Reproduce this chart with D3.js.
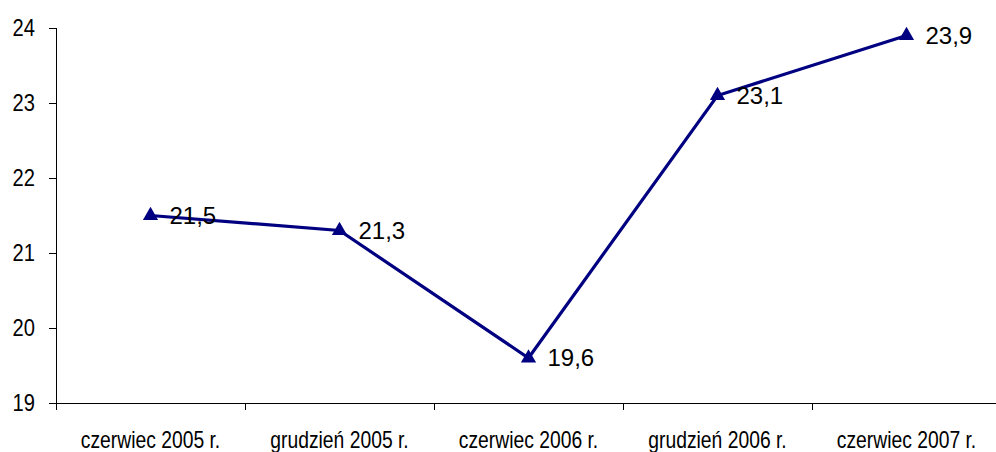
<!DOCTYPE html>
<meta charset="utf-8">
<style>
body { margin: 0; background: #fff; }
.axis path, .axis line { stroke: #000; stroke-width: 1px; shape-rendering: crispEdges; }
.axis text { font-family: "Liberation Sans", Arial, sans-serif; font-size: 23px; fill: #000; }
.lbl { font-family: "Liberation Sans", Arial, sans-serif; font-size: 24px; fill: #000; }
</style>
<script src="https://d3js.org/d3.v7.min.js"></script>
<div id="chart"></div>
<script>
// data
var periods = ["czerwiec 2005 r.", "grudzień 2005 r.", "czerwiec 2006 r.", "grudzień 2006 r.", "czerwiec 2007 r."];
var values = [21.5, 21.3, 19.6, 23.1, 23.9];
var valueLabels = ["21,5", "21,3", "19,6", "23,1", "23,9"];
var yTicks = [19, 20, 21, 22, 23, 24];

var width = 996, height = 452;
var svg = d3.select("#chart").append("svg")
  .attr("width", width)
  .attr("height", height);

var x = d3.scaleBand()
  .domain(periods)
  .range([56, 1001]);

var y = d3.scaleLinear()
  .domain([19, 24])
  .range([403, 28]);

// narrow look like Arial Narrow: squeeze text around its anchor
function narrow(sel, k) {
  sel.each(function() {
    var t = d3.select(this);
    var tx = +t.attr("x") || 0;
    t.attr("x", 0).attr("transform", "translate(" + tx + ",0) scale(" + k + ",1)");
  });
}

// y axis
var gy = svg.append("g")
  .attr("class", "axis")
  .attr("transform", "translate(56,0)")
  .call(d3.axisLeft(y).tickValues(yTicks).tickSize(7).tickPadding(14).tickFormat(d3.format("d")));
gy.selectAll("text").style("font-size", "24px").call(narrow, 0.84);

// x axis, ticks between categories
var gx = svg.append("g")
  .attr("class", "axis")
  .attr("transform", "translate(0,403)")
  .call(d3.axisBottom(x).tickSize(0).tickPadding(29));
gx.selectAll(".tick line").remove();
gx.selectAll("text").call(narrow, 0.84);
gx.selectAll(".sep")
  .data(periods)
  .enter().append("line")
  .attr("x1", function(d) { return Math.round(x(d)) + 0.5; })
  .attr("x2", function(d) { return Math.round(x(d)) + 0.5; })
  .attr("y1", 0)
  .attr("y2", 7);

var pts = periods.map(function(p, i) { return {p: p, v: values[i], l: valueLabels[i]}; });

var line = d3.line()
  .x(function(d) { return x(d.p) + x.bandwidth() / 2; })
  .y(function(d) { return y(d.v); });

svg.append("path")
  .datum(pts)
  .attr("d", line)
  .attr("fill", "none")
  .attr("stroke", "#000080")
  .attr("stroke-width", 3.2);

svg.selectAll(".mark")
  .data(pts)
  .enter().append("path")
  .attr("class", "mark")
  .attr("d", d3.symbol().type(d3.symbolTriangle).size(100))
  .attr("transform", function(d) { return "translate(" + (x(d.p) + x.bandwidth() / 2) + "," + y(d.v) + ")"; })
  .attr("fill", "#000080");

svg.selectAll(".lbl")
  .data(pts)
  .enter().append("text")
  .attr("class", "lbl")
  .attr("x", function(d) { return x(d.p) + x.bandwidth() / 2 + 19; })
  .attr("y", function(d) { return y(d.v); })
  .attr("dy", "0.35em")
  .text(function(d) { return d.l; });
</script>
